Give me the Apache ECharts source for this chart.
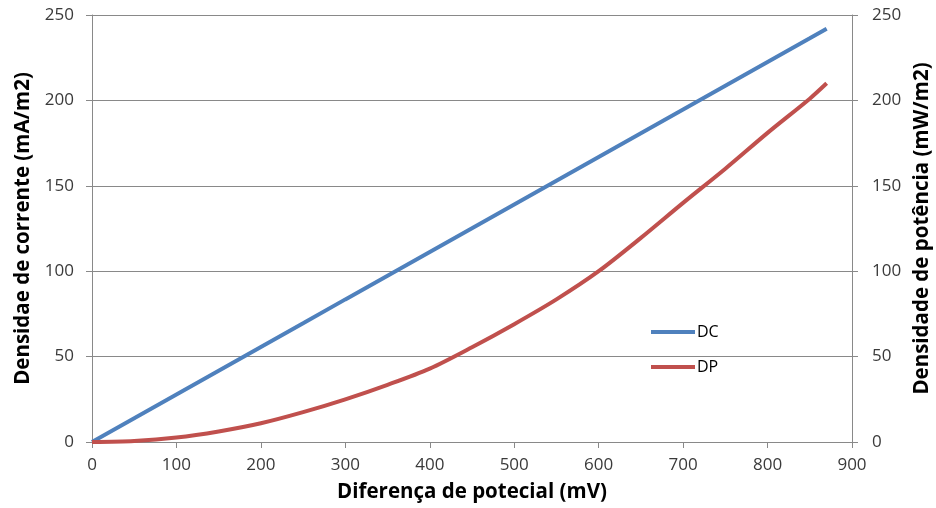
<!DOCTYPE html>
<html>
<head>
<meta charset="utf-8">
<script src="https://cdn.jsdelivr.net/npm/echarts@6/dist/echarts.min.js"></script>
<style>
html,body{margin:0;padding:0;background:#fff;}
#chart{width:936px;height:508px;}
</style>
</head>
<body>
<div id="chart"></div>
<script>
// Potential difference (mV)
const potencial = [0, 50, 100, 150, 200, 250, 300, 350, 400, 450, 500, 550, 600, 650, 700, 750, 800, 850, 870];
// Current density DC (mA/m2)
const densCorrente = [0, 13.9, 27.8, 41.7, 55.6, 69.5, 83.5, 97.4, 111.3, 125.2, 139.1, 153, 166.9, 180.8, 194.7, 208.6, 222.5, 236.4, 242];
// Power density DP (mW/m2)
const densPotencia = [0, 0.6, 2.6, 6.2, 11, 17.5, 25, 33.5, 43, 55.5, 69, 83.5, 100, 119.5, 140, 160, 181, 201, 210];

const yTicks = { min: 0, max: 250, interval: 50 };
const xTicks = { min: 0, max: 900, interval: 100 };

const font = '"Open Sans", "Liberation Sans", sans-serif';
const gridColor = '#898989';
const labelColor = '#3a3a3a';

const pairs = (xs, ys) => xs.map((x, i) => [x, ys[i]]);

const yAxisBase = (name, pos, gap, labelMargin) => ({
  type: 'value',
  position: pos,
  min: yTicks.min, max: yTicks.max, interval: yTicks.interval,
  name: name,
  nameLocation: 'middle',
  nameGap: gap,
  nameTextStyle: { fontFamily: font, fontSize: 20.5, fontWeight: 'bold', color: '#000' },
  axisLine: { show: true, lineStyle: { color: gridColor, width: 1 } },
  axisTick: { show: true, length: 6, lineStyle: { color: gridColor } },
  axisLabel: { fontFamily: font, fontSize: 17, color: labelColor, margin: labelMargin },
  splitLine: { show: pos === 'left', lineStyle: { color: gridColor, width: 1 } }
});

const chart = echarts.init(document.getElementById('chart'));
chart.setOption({
  backgroundColor: '#fff',
  animation: false,
  grid: { left: 92, right: 84, top: 15, bottom: 66, outerBoundsMode: 'none', containLabel: false },
  legend: {
    orient: 'vertical',
    left: 646, top: 319,
    itemWidth: 44, itemHeight: 4, itemGap: 19,
    icon: 'rect',
    textStyle: { fontFamily: font, fontSize: 16, color: '#000', padding: [0, 0, 0, -3] },
    data: ['DC', 'DP']
  },
  xAxis: {
    type: 'value',
    min: xTicks.min, max: xTicks.max, interval: xTicks.interval,
    name: 'Diferença de potecial (mV)',
    nameLocation: 'middle',
    nameGap: 40,
    nameTextStyle: { fontFamily: font, fontSize: 20.5, fontWeight: 'bold', color: '#000' },
    axisLine: { show: true, onZero: false, lineStyle: { color: gridColor, width: 1 } },
    axisTick: { show: true, length: 6, lineStyle: { color: gridColor } },
    axisLabel: { fontFamily: font, fontSize: 17, color: labelColor, margin: 15 },
    splitLine: { show: false }
  },
  yAxis: [
    yAxisBase('Densidae de corrente (mA/m2)', 'left', 56, 18),
    yAxisBase('Densidade de potência (mW/m2)', 'right', 60, 20)
  ],
  series: [
    {
      name: 'DC', type: 'line', yAxisIndex: 0,
      data: pairs(potencial, densCorrente),
      showSymbol: false, smooth: false,
      lineStyle: { color: '#4F81BD', width: 4 },
      itemStyle: { color: '#4F81BD' }
    },
    {
      name: 'DP', type: 'line', yAxisIndex: 1,
      data: pairs(potencial, densPotencia),
      showSymbol: false, smooth: 0.3,
      lineStyle: { color: '#C0504D', width: 4 },
      itemStyle: { color: '#C0504D' }
    }
  ]
});
</script>
</body>
</html>
